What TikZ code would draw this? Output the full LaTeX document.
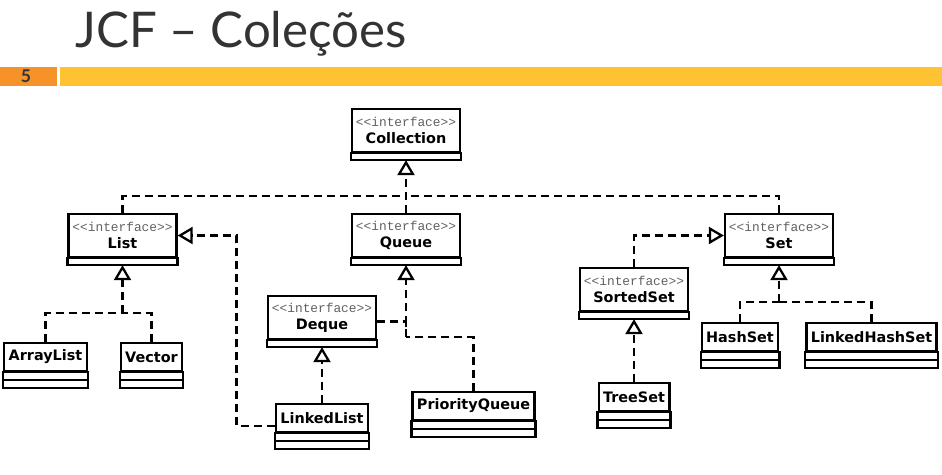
\documentclass[tikz,border=0pt]{standalone}
\usepackage{fontspec}
\usetikzlibrary{arrows.meta}
\newfontfamily\titlefont{Lato}
\newfontfamily\umlfont{DejaVu Sans}
\newfontfamily\stereofont{Liberation Mono}
\definecolor{slidegray}{HTML}{333333}
\definecolor{barorange}{HTML}{F5922A}
\definecolor{baryellow}{HTML}{FFC232}
\newcommand{\stereo}{{\stereofont\mdseries\color{black!62}\fontsize{7.3}{9.6}\selectfont <{}<interface>{}>}}
\begin{document}
\begin{tikzpicture}[x=0.02cm, y=-0.02cm,
  uml/.style={draw, line width=1.3pt, fill=white, align=center, inner xsep=2.5pt,
    font=\umlfont\bfseries\fontsize{8.2}{9.8}\selectfont},
  iface/.style={uml, minimum width=2.16cm, minimum height=0.86cm, inner xsep=0pt},
  klass/.style={uml, minimum height=0.56cm},
  dep/.style={line width=1.3pt, dash pattern=on 0.16cm off 0.1cm},
  impl/.style={dep, -{Triangle[open, length=0.3cm, width=0.34cm]}}]

  % 背景と枠
  \fill[white] (0,0) rectangle (942,474);
  \useasboundingbox (0,0) rectangle (942,474);

  % タイトル
  \node[anchor=base west, inner sep=0pt, text=slidegray,
    font=\titlefont\fontsize{28}{28}\selectfont] (title) at (75,47) {JCF – Coleções};

  % 帯
  \fill[barorange] (0,67) rectangle (57,86);
  \fill[baryellow] (60,67) rectangle (942,86);
  \node[text=slidegray, font=\titlefont\bfseries\fontsize{10}{10}\selectfont] (page) at (26,76.5) {5};

  % インタフェース
  \node[iface] (coll)  at (406,130.5) {\stereo\\Collection};
  \node[iface] (list)  at (122.5,235.5) {\stereo\\List};
  \node[iface] (queue) at (406,235.5) {\stereo\\Queue};
  \node[iface] (set)   at (779,235.5) {\stereo\\Set};
  \node[iface] (sset)  at (634,289.5) {\stereo\\SortedSet};
  \node[iface] (deque) at (322,317.5) {\stereo\\Deque};

  % クラス
  \node[klass] (alist)  at (45.5,357) {ArrayList};
  \node[klass] (vector) at (151.5,357) {Vector};
  \node[klass] (llist)  at (322,418) {LinkedList};
  \node[klass] (pq)     at (473.5,406) {PriorityQueue};
  \node[klass] (tset)   at (634,397) {TreeSet};
  \node[klass] (hset)   at (740,337) {HashSet};
  \node[klass] (lhset)  at (871.5,337) {LinkedHashSet};

  % 区画
  \foreach \n in {coll, list, queue, set, sset, deque}
    \draw[line width=1.3pt] (\n.south west) rectangle ([yshift=-0.14cm]\n.south east);
  \foreach \n in {alist, vector, llist, pq, tset, hset, lhset}{
    \draw[line width=1.3pt] (\n.south west) rectangle ([yshift=-0.16cm]\n.south east);
    \draw[line width=1.3pt] ([yshift=-0.16cm]\n.south west) rectangle ([yshift=-0.32cm]\n.south east);
  }

  % 分岐点
  \coordinate (bus)  at (406,196);
  \coordinate (lbus) at (122.5,313);
  \coordinate (qbus) at (406,337);
  \coordinate (sbus) at (779,302);

  % Collection へ
  \draw[impl] (queue.north) -- ([yshift=-0.14cm]coll.south);
  \draw[dep] (list.north) |- (bus);
  \draw[dep] (set.north) |- (bus);

  % List へ
  \draw[impl] (lbus) -- ([yshift=-0.14cm]list.south);
  \draw[dep] (alist.north) |- (lbus);
  \draw[dep] (vector.north) |- (lbus);
  \draw[impl] ([yshift=-0.16cm]llist.west) -| ([xshift=1.18cm]list.east) -- (list.east);

  % Queue と Deque へ
  \draw[impl] (llist.north) -- ([yshift=-0.14cm]deque.south);
  \draw[impl] (qbus) -- ([yshift=-0.14cm]queue.south);
  \draw[dep] (pq.north) |- (qbus);
  \draw[dep] ([yshift=-0.08cm]deque.east) -| (qbus);

  % Set と SortedSet へ
  \draw[impl] (sset.north) |- (set.west);
  \draw[impl] (tset.north) -- ([yshift=-0.14cm]sset.south);
  \draw[impl] (sbus) -- ([yshift=-0.14cm]set.south);
  \draw[dep] (hset.north) |- (sbus);
  \draw[dep] (lhset.north) |- (sbus);

\end{tikzpicture}
\end{document}
